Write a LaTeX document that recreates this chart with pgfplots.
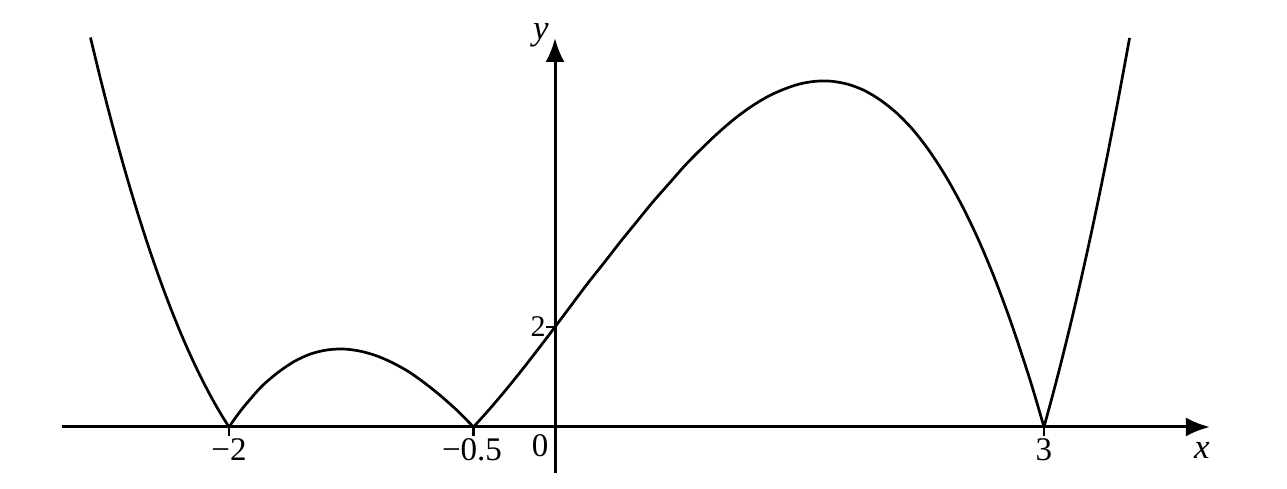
\documentclass[border=0pt]{standalone}
\usepackage{fontspec}
\setmainfont{Liberation Serif}
\usepackage{pgfplots}
\pgfplotsset{compat=1.18}
\usetikzlibrary{arrows.meta}
\begin{document}
\begin{tikzpicture}
\begin{axis}[
  x=81.5pt, y=25pt,
  axis lines=middle,
  xmin=-3.025, xmax=4.018,
  ymin=-0.92, ymax=7.78,
  clip=false,
  axis line style={line width=1.5pt, -{Latex[length=12pt,width=9.5pt]}},
  xtick={-2,-0.5,3}, ytick={2},
  xticklabels={}, yticklabels={},
  tick align=outside,
  major tick length=4.5pt,
  tick style={line width=1.3pt, black},
]
\path (axis cs:-3.405,-1.24) rectangle (axis cs:4.491,8.54);

\addplot[smooth, line width=1.35pt, black] coordinates {
(-2.85,7.79) (-2.8,7.115) (-2.75,6.469) (-2.7,5.852) (-2.65,5.264) (-2.6,4.704)
(-2.55,4.172) (-2.5,3.667) (-2.45,3.188) (-2.4,2.736) (-2.35,2.310) (-2.3,1.908)
(-2.25,1.531) (-2.2,1.179) (-2.15,0.850) (-2.1,0.544) (-2.05,0.261) (-2,0)
};
\addplot[smooth, line width=1.35pt, black] coordinates {
(-2,0) (-1.95,0.232) (-1.9,0.44) (-1.8,0.81) (-1.7,1.09) (-1.6,1.31) (-1.5,1.46)
(-1.4,1.54) (-1.3,1.56) (-1.2,1.52) (-1.1,1.43) (-1.0,1.29) (-0.9,1.11)
(-0.8,0.88) (-0.7,0.62) (-0.6,0.33) (-0.55,0.167) (-0.5,0)
};
\addplot[smooth, line width=1.35pt, black] coordinates {
(-0.5,0) (-0.4,0.363) (-0.3,0.748) (-0.2,1.152) (-0.1,1.571) (0,2) (0.1,2.436)
(0.2,2.87) (0.3,3.28) (0.4,3.70) (0.5,4.10) (0.6,4.50) (0.7,4.87) (0.8,5.24)
(0.9,5.57) (1.0,5.88) (1.1,6.16) (1.2,6.40) (1.3,6.60) (1.4,6.75) (1.5,6.86)
(1.6,6.915) (1.7,6.914) (1.8,6.852) (1.9,6.727) (2.0,6.53) (2.1,6.268)
(2.2,5.93) (2.3,5.506) (2.4,5.00) (2.5,4.41) (2.6,3.73) (2.7,2.95) (2.8,2.07)
(2.9,1.09) (2.95,0.558) (3.0,0)
};
\addplot[smooth, line width=1.35pt, black] coordinates {
(3.0,0) (3.05,0.598) (3.1,1.224) (3.15,1.88) (3.2,2.565) (3.25,3.281)
(3.3,4.028) (3.35,4.806) (3.4,5.616) (3.45,6.458) (3.5,7.333) (3.525,7.78)
};

\node[font=\fontsize{16.5}{18}\selectfont, inner sep=0pt] at (axis cs:-2,-0.46) {−2};
\node[font=\fontsize{16.5}{18}\selectfont, inner sep=0pt] at (axis cs:-0.509,-0.46) {−0.5};
\node[font=\fontsize{16.5}{18}\selectfont, inner sep=0pt] at (axis cs:-0.092,-0.38) {0};
\node[font=\fontsize{16.5}{18}\selectfont, inner sep=0pt] at (axis cs:3,-0.46) {3};
\node[font=\fontsize{15}{17}\selectfont, inner sep=0pt] at (axis cs:-0.104,2.0) {2};
\node[font=\fontsize{17.5}{19}\selectfont\itshape, inner sep=0pt] at (axis cs:3.969,-0.46) {x};
\node[font=\fontsize{17.5}{19}\selectfont\itshape, inner sep=0pt] at (axis cs:-0.086,7.84) {y};
\end{axis}
\end{tikzpicture}
\end{document}
